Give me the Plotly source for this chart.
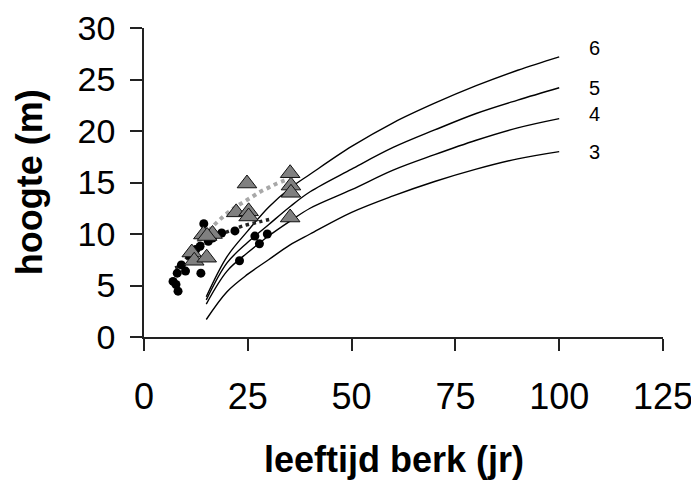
import plotly.graph_objects as go

# Site-index curves (ages and heights per class)
curve_age = [15, 20, 25, 30, 35, 40, 50, 60, 70, 80, 90, 100]
curve_3 = [1.7, 4.4, 6.1, 7.5, 8.9, 10.0, 12.1, 13.7, 15.1, 16.3, 17.3, 18.0]
curve_4 = [3.2, 6.4, 8.2, 9.8, 11.2, 12.5, 14.3, 16.2, 17.7, 19.1, 20.3, 21.2]
curve_5 = [3.6, 7.2, 9.2, 10.9, 12.6, 14.1, 16.3, 18.4, 20.1, 21.7, 23.0, 24.2]
curve_6 = [3.9, 7.8, 10.3, 12.6, 14.4, 15.8, 18.5, 20.8, 22.7, 24.4, 25.9, 27.2]
curve_labels = ["3", "4", "5", "6"]
label_x = [108.5, 108.5, 108.5, 108.5]
label_y = [17.8, 21.5, 24.0, 27.9]

# Black dots
dot_age = [7.0, 7.7, 8.2, 8.0, 10.0, 13.7, 14.4, 18.7, 21.9, 26.7, 27.8, 29.7, 23.0,
           9.0, 11.0, 12.5, 13.5, 15.5, 16.5]
dot_h = [5.4, 5.1, 4.45, 6.2, 6.4, 6.2, 11.0, 10.1, 10.3, 9.8, 9.05, 10.0, 7.4,
         7.0, 7.9, 8.5, 8.8, 9.3, 9.6]

# Grey triangles
tri_age = [11.5, 12.1, 15.1, 14.3, 16.5, 15.2, 22.2, 24.8, 25.2, 25.2, 35.2, 35.4, 35.4, 35.2]
tri_h = [8.2, 7.4, 7.7, 9.95, 10.0, 9.8, 12.1, 14.9, 12.2, 11.7, 15.9, 14.7, 14.0, 11.6]

# Trend of black dots
black_trend_age = [7.5, 9, 10, 12, 14, 16, 18, 20, 24, 28, 31]
black_trend_h = [6.7, 7.0, 7.5, 8.4, 9.0, 9.5, 9.9, 10.2, 10.8, 11.2, 11.5]

# Trend of triangles
grey_trend_age = [12, 13, 14, 16, 18, 20, 22, 24, 26, 28, 30, 32, 34.5]
grey_trend_h = [8.5, 9.1, 9.6, 10.5, 11.3, 12.0, 12.6, 13.1, 13.6, 14.1, 14.5, 14.9, 15.3]

fig = go.Figure()

for ys in [curve_3, curve_4, curve_5, curve_6]:
    fig.add_trace(go.Scatter(x=curve_age, y=ys, mode="lines",
                             line=dict(color="black", width=1.4, shape="spline"),
                             showlegend=False, hoverinfo="skip"))

fig.add_trace(go.Scatter(x=grey_trend_age, y=grey_trend_h, mode="lines",
                         line=dict(color="#a8a8a8", width=4, dash="dot", shape="spline"),
                         showlegend=False))
fig.add_trace(go.Scatter(x=black_trend_age, y=black_trend_h, mode="lines",
                         line=dict(color="#222", width=3.5, dash="dot", shape="spline"),
                         showlegend=False))

fig.add_trace(go.Scatter(x=dot_age, y=dot_h, mode="markers",
                         marker=dict(symbol="circle", size=9, color="black"),
                         showlegend=False))
fig.add_trace(go.Scatter(x=tri_age, y=tri_h, mode="markers",
                         marker=dict(symbol="triangle-up", size=17, color="#808080",
                                     line=dict(color="#111", width=1)),
                         showlegend=False))

fig.add_trace(go.Scatter(x=label_x, y=label_y, mode="text", text=curve_labels,
                         textfont=dict(family="Liberation Sans, Arial", size=20, color="black"),
                         showlegend=False, hoverinfo="skip"))

fig.update_layout(
    width=699, height=487,
    margin=dict(l=136, r=44, t=20, b=158, autoexpand=False),
    paper_bgcolor="white", plot_bgcolor="white",
    font=dict(family="Liberation Sans, Arial", color="black"),
    annotations=[
        dict(text="<b>leeftijd berk (jr)</b>", xref="paper", yref="paper",
             x=0.482, y=-0.396, xanchor="center", yanchor="middle",
             showarrow=False, font=dict(size=36)),
        dict(text="<b>hoogte (m)</b>", xref="paper", yref="paper",
             x=-0.22, y=0.5, xanchor="center", yanchor="middle", textangle=-90,
             showarrow=False, font=dict(size=36)),
    ],
)
fig.update_xaxes(range=[0, 125], tickvals=[0, 25, 50, 75, 100, 125], automargin=False,
                 showgrid=False, zeroline=False, showline=True, linecolor="#222", linewidth=1.5,
                 ticks="outside", ticklen=12, tickcolor="#222", tickwidth=1.5,
                 ticklabelstandoff=15,
                 tickfont=dict(size=36))
fig.update_yaxes(range=[0, 30], tickvals=[0, 5, 10, 15, 20, 25, 30], automargin=False,
                 showgrid=False, zeroline=False, showline=True, linecolor="#222", linewidth=1.5,
                 ticks="outside", ticklen=12, tickcolor="#222", tickwidth=1.5,
                 ticklabelstandoff=8,
                 tickfont=dict(size=34))

fig.write_html("out.html")
